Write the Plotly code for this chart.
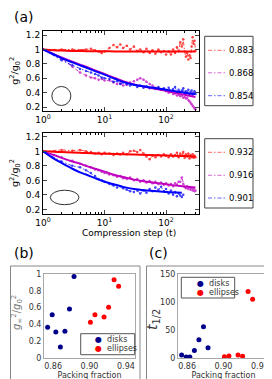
import plotly.graph_objects as go

W, H = 272, 379

# ---------------- panel (a): data ----------------
t_data = [1, 2, 3, 4, 5, 6, 7, 8, 9, 10, 12, 14, 16, 18, 20, 23, 26, 30, 34, 38,
          43, 48, 54, 60, 67, 75, 83, 92, 100, 110, 120, 130, 140, 150, 160, 170,
          180, 190, 200, 210, 220, 230, 240, 250, 260, 270, 280, 290, 300]

top_red = [1.0, 1.0, 1.0, 0.99, 1.0, 1.01, 0.99, 0.97, 0.95, 0.97,
           1.02, 1.06, 1.03, 1.07, 1.02, 1.05, 1.0, 1.04, 0.98, 1.0,
           0.96, 1.01, 0.95, 0.99, 0.94, 1.0, 0.96, 0.98, 0.93,
           0.97, 0.93, 1.0, 0.95, 1.03, 0.98, 1.1, 1.04, 1.14, 0.97,
           0.9, 0.95, 0.86, 0.92, 0.88, 1.04, 1.17, 1.08, 1.12, 0.98]
top_mag = [1.0, 0.87, 0.76, 0.68, 0.64, 0.61, 0.6, 0.58, 0.59, 0.57,
           0.57, 0.54, 0.52, 0.53, 0.5, 0.51, 0.54, 0.56, 0.58, 0.6,
           0.58, 0.55, 0.52, 0.5, 0.47, 0.46, 0.44, 0.45, 0.42,
           0.4, 0.41, 0.38, 0.39, 0.36, 0.37, 0.35, 0.36, 0.33, 0.34,
           0.32, 0.33, 0.3, 0.28, 0.26, 0.24, 0.22, 0.2, 0.18, 0.17]
top_blue = [1.0, 0.85, 0.78, 0.73, 0.7, 0.68, 0.66, 0.64, 0.61, 0.6,
            0.59, 0.55, 0.56, 0.52, 0.54, 0.52, 0.5, 0.51, 0.48, 0.5,
            0.47, 0.49, 0.46, 0.47, 0.45, 0.48, 0.44, 0.46, 0.43,
            0.47, 0.42, 0.45, 0.48, 0.41, 0.44, 0.4, 0.43, 0.46, 0.39,
            0.42, 0.4, 0.44, 0.38, 0.41, 0.43, 0.37, 0.4, 0.42, 0.38]

bot_red = [1.0, 1.02, 1.01, 1.02, 1.0, 0.99, 0.97, 0.98, 0.96, 0.98,
           0.97, 0.95, 0.97, 0.96, 0.98, 0.96, 1.0, 1.01, 0.99, 1.02,
           0.97, 0.93, 0.89, 0.94, 0.92, 0.95, 0.93, 0.96, 0.94,
           0.92, 0.96, 0.93, 0.95, 0.98, 0.92, 0.97, 0.94, 0.99, 0.91,
           0.96, 0.93, 0.97, 0.9, 0.95, 0.92, 0.96, 0.91, 0.94, 0.92]
bot_mag = [1.0, 0.92, 0.87, 0.83, 0.8, 0.78, 0.75, 0.74, 0.72, 0.7,
           0.68, 0.67, 0.65, 0.66, 0.63, 0.62, 0.64, 0.6, 0.62, 0.58,
           0.6, 0.57, 0.59, 0.56, 0.58, 0.55, 0.57, 0.54, 0.56,
           0.53, 0.55, 0.52, 0.56, 0.54, 0.58, 0.58, 0.64, 0.55, 0.51,
           0.49, 0.52, 0.48, 0.5, 0.47, 0.49, 0.46, 0.48, 0.45, 0.46]
t_bot_blue = t_data[:38]
bot_blue = [1.0, 0.86, 0.8, 0.78, 0.74, 0.7, 0.66, 0.62, 0.6, 0.58,
            0.55, 0.53, 0.5, 0.52, 0.49, 0.47, 0.45, 0.44, 0.46, 0.42,
            0.46, 0.43, 0.48, 0.45, 0.5, 0.47, 0.51, 0.45, 0.48,
            0.42, 0.46, 0.4, 0.44, 0.38, 0.42, 0.39, 0.37, 0.4]

# fitted curves
t_fit = [1, 1.5, 2, 3, 4, 5, 7, 10, 15, 20, 30, 50, 100, 200, 300]
top_fit_red = [1.0, 0.99, 0.985, 0.98, 0.978, 0.976, 0.975, 0.974, 0.973, 0.973,
               0.972, 0.972, 0.972, 0.972, 0.972]
top_fit_mag = [1.0, 0.935, 0.89, 0.83, 0.79, 0.76, 0.71, 0.66, 0.6, 0.56,
               0.515, 0.475, 0.425, 0.37, 0.34]
top_fit_blue = [1.0, 0.93, 0.88, 0.82, 0.78, 0.75, 0.7, 0.65, 0.59, 0.55,
                0.51, 0.48, 0.44, 0.4, 0.38]
bot_fit_red = [1.0, 0.995, 0.99, 0.985, 0.98, 0.977, 0.972, 0.968, 0.963, 0.96,
               0.955, 0.95, 0.943, 0.935, 0.93]
bot_fit_mag = [1.0, 0.95, 0.91, 0.86, 0.83, 0.8, 0.76, 0.72, 0.67, 0.645,
               0.61, 0.58, 0.545, 0.515, 0.5]
t_fit_bb = [1, 1.5, 2, 3, 4, 5, 7, 10, 15, 20, 30, 50, 100, 180]
bot_fit_blue = [1.0, 0.9, 0.84, 0.76, 0.71, 0.68, 0.63, 0.58, 0.54, 0.51,
                0.48, 0.46, 0.44, 0.43]

top_labels = ["0.883", "0.868", "0.854"]
bot_labels = ["0.932", "0.916", "0.901"]

# ---------------- panels (b), (c) ----------------
disk_phi = [0.854, 0.859, 0.863, 0.868, 0.873, 0.878, 0.883]
disk_ginf = [0.365, 0.515, 0.31, 0.13, 0.318, 0.583, 0.97]
disk_thalf = [5.3, 1.8, 1.8, 13.6, 32.6, 55.7, 18.4]
ell_phi = [0.901, 0.906, 0.916, 0.921, 0.927, 0.932]
ell_ginf = [0.425, 0.515, 0.488, 0.603, 0.932, 0.853]
ell_thalf = [2.4, 3.6, 5.3, 3.0, 118.6, 105.0]
bc_labels = ["disks", "ellipses"]

a_xtickvals = [1, 10, 100]
a_xticktext = ["10<sup>0</sup>", "10<sup>1</sup>", "10<sup>2</sup>"]
a_minor = [2, 3, 4, 5, 6, 7, 8, 9, 20, 30, 40, 50, 60, 70, 80, 90, 200, 300]
a_ytickvals = [0.2, 0.4, 0.6, 0.8, 1.0, 1.2]
a_yticktext = ["0.2", "0.4", "0.6", "0.8", "1", "1.2"]
b_xtickvals = [0.86, 0.90, 0.94]
b_xticktext = ["0.86", "0.90", "0.94"]
b_ytickvals = [0, 0.2, 0.4, 0.6, 0.8, 1.0]
b_yticktext = ["0", "0.2", "0.4", "0.6", "0.8", "1"]
c_ytickvals = [0, 50, 100, 150]

RED, MAG, BLUE = "#ff0000", "#bf00bf", "#0000ff"
DISK, ELL = "#00008b", "#ff0000"
FONT = "DejaVu Sans"
DASHDOT = "4px,2px,1.5px,2px"

fig = go.Figure()


def data_trace(x, y, color, name, xa, ya):
    fig.add_trace(go.Scatter(
        x=x, y=y, mode="lines+markers", name=name, xaxis=xa, yaxis=ya,
        showlegend=False, opacity=0.75,
        line=dict(color=color, width=1, dash=DASHDOT),
        marker=dict(color=color, size=2.5)))


def fit_trace(x, y, color, xa, ya):
    fig.add_trace(go.Scatter(
        x=x, y=y, mode="lines", showlegend=False, xaxis=xa, yaxis=ya,
        line=dict(color=color, width=2, shape="spline")))


data_trace(t_data, top_red, RED, top_labels[0], "x", "y")
data_trace(t_data, top_mag, MAG, top_labels[1], "x", "y")
data_trace(t_data, top_blue, BLUE, top_labels[2], "x", "y")
fit_trace(t_fit, top_fit_red, RED, "x", "y")
fit_trace(t_fit, top_fit_mag, MAG, "x", "y")
fit_trace(t_fit, top_fit_blue, BLUE, "x", "y")

data_trace(t_data, bot_red, RED, bot_labels[0], "x2", "y2")
data_trace(t_data, bot_mag, MAG, bot_labels[1], "x2", "y2")
data_trace(t_bot_blue, bot_blue, BLUE, bot_labels[2], "x2", "y2")
fit_trace(t_fit, bot_fit_red, RED, "x2", "y2")
fit_trace(t_fit, bot_fit_mag, MAG, "x2", "y2")
fit_trace(t_fit_bb, bot_fit_blue, BLUE, "x2", "y2")

for xa, ya, yd, yd2 in [("x3", "y3", disk_ginf, ell_ginf), ("x4", "y4", disk_thalf, ell_thalf)]:
    fig.add_trace(go.Scatter(x=disk_phi, y=yd, mode="markers", name=bc_labels[0],
                             xaxis=xa, yaxis=ya, showlegend=False,
                             marker=dict(color=DISK, size=5)))
    fig.add_trace(go.Scatter(x=ell_phi, y=yd2, mode="markers", name=bc_labels[1],
                             xaxis=xa, yaxis=ya, showlegend=False,
                             marker=dict(color=ELL, size=5)))


def px_x(p):
    return p / W


def px_y(p):
    return 1 - p / H


tickfont = dict(family=FONT, size=9, color="black")
a_common_x = dict(type="log", range=[0, 2.53], tickvals=a_xtickvals, ticktext=a_xticktext,
                  ticks="inside", ticklen=4, showline=True, linecolor="black", linewidth=1,
                  mirror="ticks", showgrid=False, zeroline=False, automargin=False,
                  tickfont=tickfont,
                  minor=dict(tickvals=a_minor, ticks="inside", ticklen=2, tickcolor="black",
                             showgrid=False))
a_common_y = dict(tickvals=a_ytickvals, ticktext=a_yticktext, ticks="inside", ticklen=4,
                  showline=True, linecolor="black", linewidth=1, mirror="ticks",
                  showgrid=False, zeroline=False, automargin=False, tickfont=tickfont,
                  title=dict(text="g<sup>2</sup>/g<sub>0</sub><sup>2</sup>",
                             font=dict(family=FONT, size=9.5, color="black")))

bc_font = dict(family=FONT, size=8, color="#333333")
bc_common_x = dict(range=[0.85, 0.95], tickvals=b_xtickvals, ticktext=b_xticktext,
                   showline=True, linecolor="#a8a8a8", linewidth=1, mirror=True,
                   ticks="", showgrid=False, zeroline=False, automargin=False,
                   tickfont=bc_font,
                   title=dict(text="Packing fraction", font=bc_font, standoff=2))
bc_common_y = dict(showline=True, linecolor="#a8a8a8", linewidth=1, mirror=True,
                   ticks="", showgrid=False, zeroline=False, automargin=False,
                   tickfont=bc_font)

fig.update_layout(
    width=W, height=H, margin=dict(l=0, r=0, t=0, b=0),
    paper_bgcolor="white", plot_bgcolor="white",
    font=dict(family=FONT, size=9, color="black"),
    showlegend=False,
    xaxis=dict(domain=[px_x(35), px_x(190.7)], anchor="y", **a_common_x),
    yaxis=dict(domain=[px_y(102.7), px_y(22.7)], anchor="x", range=[0.15, 1.26], **a_common_y),
    xaxis2=dict(domain=[px_x(35), px_x(190.7)], anchor="y2", **a_common_x),
    yaxis2=dict(domain=[px_y(205.7), px_y(124.5)], anchor="x2", range=[0.14, 1.26], **a_common_y),
    xaxis3=dict(domain=[px_x(36), px_x(127)], anchor="y3", **bc_common_x),
    yaxis3=dict(domain=[px_y(350), px_y(266)], anchor="x3", range=[0, 1],
                tickvals=b_ytickvals, ticktext=b_yticktext, **bc_common_y),
    xaxis4=dict(domain=[px_x(170), px_x(261)], anchor="y4", **bc_common_x),
    yaxis4=dict(domain=[px_y(350), px_y(266)], anchor="x4", range=[0, 150],
                tickvals=c_ytickvals, **bc_common_y),
)

# shapes: particle icons and panel frames
fig.add_shape(type="circle", xref="x domain", yref="y domain",
              x0=0.057, x1=0.179, y0=0.065, y1=0.303, line=dict(color="#333333", width=1))
fig.add_shape(type="circle", xref="x2 domain", yref="y2 domain",
              x0=0.047, x1=0.231, y0=0.111, y1=0.289, line=dict(color="#333333", width=1))
fig.add_shape(type="rect", xref="paper", yref="paper", x0=px_x(2.5), x1=px_x(132),
              y0=-0.02, y1=px_y(258), line=dict(color="#888888", width=1))
fig.add_shape(type="rect", xref="paper", yref="paper", x0=px_x(138.5), x1=px_x(268),
              y0=-0.02, y1=px_y(258), line=dict(color="#888888", width=1))

ann = []

# legend boxes for panel (a)
for (top, bot), labels, ys in [((28.3, 97.7), top_labels, [42.3, 64.8, 87.7]),
                               ((130.7, 200), bot_labels, [144.3, 167.3, 190])]:
    fig.add_shape(type="rect", xref="paper", yref="paper", x0=px_x(196.7), x1=px_x(245),
                  y0=px_y(bot), y1=px_y(top), line=dict(color="#444444", width=1),
                  fillcolor="white", layer="above")
    for lab, col, y in zip(labels, [RED, MAG, BLUE], ys):
        fig.add_shape(type="line", xref="paper", yref="paper", x0=px_x(200), x1=px_x(218),
                      y0=px_y(y), y1=px_y(y), opacity=0.6, layer="above",
                      line=dict(color=col, width=1, dash=DASHDOT))
        ann.append(dict(text=lab, x=px_x(218.5), y=px_y(y), xref="paper", yref="paper",
                        xanchor="left", yanchor="middle", showarrow=False,
                        font=dict(family=FONT, size=8.5, color="black")))

# legend boxes for (b), (c)
fig.add_shape(type="rect", xref="paper", yref="paper", x0=px_x(72.7), x1=px_x(126.7),
              y0=px_y(346.7), y1=px_y(325.7), line=dict(color="#555555", width=1),
              fillcolor="white", layer="above")
fig.add_shape(type="rect", xref="paper", yref="paper", x0=px_x(173.3), x1=px_x(226.7),
              y0=px_y(290), y1=px_y(269.3), line=dict(color="#555555", width=1),
              fillcolor="white", layer="above")

for txt, x, y in [("(a)", 4, 9), ("(b)", 4, 245), ("(c)", 139, 245)]:
    ann.append(dict(text=txt, x=px_x(x), y=px_y(y), xref="paper", yref="paper",
                    xanchor="left", yanchor="middle", showarrow=False,
                    font=dict(family=FONT, size=14, color="black")))
ann.append(dict(text="Compression step (t)", x=px_x(121), y=px_y(225), xref="paper",
                yref="paper", xanchor="center", yanchor="middle", showarrow=False,
                font=dict(family=FONT, size=9, color="black")))
# y-axis titles of (b) and (c)
ann.append(dict(text="<i>g</i><sub>∞</sub><sup>2</sup>/<i>g</i><sub>0</sub><sup>2</sup>",
                x=px_x(9), y=px_y(305), xref="paper", yref="paper", textangle=-90,
                xanchor="center", yanchor="middle", showarrow=False,
                font=dict(family=FONT, size=10, color="#777777")))
ann.append(dict(text="<i>t</i><sub>1/2</sub>",
                x=px_x(145), y=px_y(312), xref="paper", yref="paper", textangle=-90,
                xanchor="center", yanchor="middle", showarrow=False,
                font=dict(family=FONT, size=14, color="#333333")))
for x0, ys in [(85, [331.3, 340.7]), (186.5, [275.0, 284.3])]:
    for txt, col, y in zip(bc_labels, [DISK, ELL], ys):
        ann.append(dict(text=f"<span style='color:{col}'>●</span>\u00a0\u00a0{txt}",
                        x=px_x(x0), y=px_y(y), xref="paper", yref="paper",
                        xanchor="left", yanchor="middle", showarrow=False,
                        font=dict(family=FONT, size=8, color="#333333")))
fig.update_layout(annotations=ann)

fig.write_html("out.html")
